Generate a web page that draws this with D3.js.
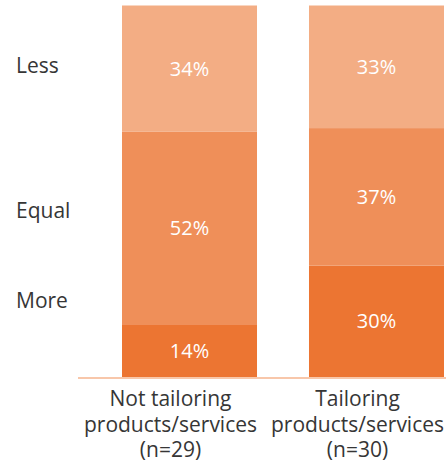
<!DOCTYPE html>
<html>
<head>
<meta charset="utf-8">
<script src="https://cdn.jsdelivr.net/npm/d3@7"></script>
<style>
    body { margin: 0; background: #fff; }
    svg { display: block; font-family: "Open Sans", sans-serif; }
</style>
</head>
<body>
<div id="chart"></div>
<script>
// DATA ---------------------------------------------------------------------
const groups = ["Not tailoring", "Tailoring"];
const groupLabels = [
    ["Not tailoring", "products/services", "(n=29)"],
    ["Tailoring", "products/services", "(n=30)"]
];
const levels = ["More", "Equal", "Less"];   // bottom to top
const more  = [14, 30];
const equal = [52, 37];
const less  = [34, 33];

// SETTINGS -----------------------------------------------------------------
const width = 446, height = 465;
const colors = { More: "#ec7532", Equal: "#ef8f59", Less: "#f3ad84" };
const rowLabelY = { Less: 73, Equal: 218, More: 308 };

const svg = d3.select("#chart").append("svg")
    .attr("width", width)
    .attr("height", height);

const x = d3.scaleBand()
    .domain(groups)
    .range([122, 444])
    .paddingInner(0.278)
    .paddingOuter(0);

const y = d3.scaleLinear()
    .domain([0, 100])
    .range([377, 5.5]);

const rows = groups.map((g, i) => ({ group: g, More: more[i], Equal: equal[i], Less: less[i] }));
const series = d3.stack().keys(levels)(rows);

// BARS ---------------------------------------------------------------------
const layer = svg.selectAll(".layer")
    .data(series)
    .enter().append("g")
    .attr("class", "layer")
    .attr("fill", d => colors[d.key]);

layer.selectAll("rect")
    .data(d => d)
    .enter().append("rect")
    .attr("x", d => x(d.data.group))
    .attr("width", x.bandwidth())
    .attr("y", d => y(d[1]))
    .attr("height", d => y(d[0]) - y(d[1]));

// value labels
layer.selectAll("text")
    .data(d => d.map(v => ({ v, key: d.key })))
    .enter().append("text")
    .attr("x", d => x(d.v.data.group) + x.bandwidth() / 2)
    .attr("y", d => (y(d.v[0]) + y(d.v[1])) / 2 + 7)
    .attr("text-anchor", "middle")
    .attr("fill", "#fff")
    .style("font-size", "20px")
    .text(d => d.v.data[d.key] + "%");

// AXIS LINE ----------------------------------------------------------------
svg.append("line")
    .attr("x1", 78).attr("x2", width)
    .attr("y1", y(0) + 1).attr("y2", y(0) + 1)
    .attr("stroke", "#f8c7aa")
    .attr("stroke-width", 2);

// ROW LABELS ---------------------------------------------------------------
svg.selectAll(".rowLabel")
    .data(levels)
    .enter().append("text")
    .attr("class", "rowLabel")
    .attr("x", 16)
    .attr("y", d => rowLabelY[d])
    .attr("fill", "#363636")
    .style("font-size", "21px")
    .text(d => d);

// CATEGORY LABELS ----------------------------------------------------------
const cat = svg.selectAll(".catLabel")
    .data(groups)
    .enter().append("text")
    .attr("class", "catLabel")
    .attr("text-anchor", "middle")
    .attr("fill", "#363636")
    .style("font-size", "21px");

cat.selectAll("tspan")
    .data((d, i) => groupLabels[i].map(t => ({ t, g: d })))
    .enter().append("tspan")
    .attr("x", d => x(d.g) + x.bandwidth() / 2 - 19)
    .attr("y", (d, i) => 406 + i * 25.5)
    .text(d => d.t);
</script>
</body>
</html>
